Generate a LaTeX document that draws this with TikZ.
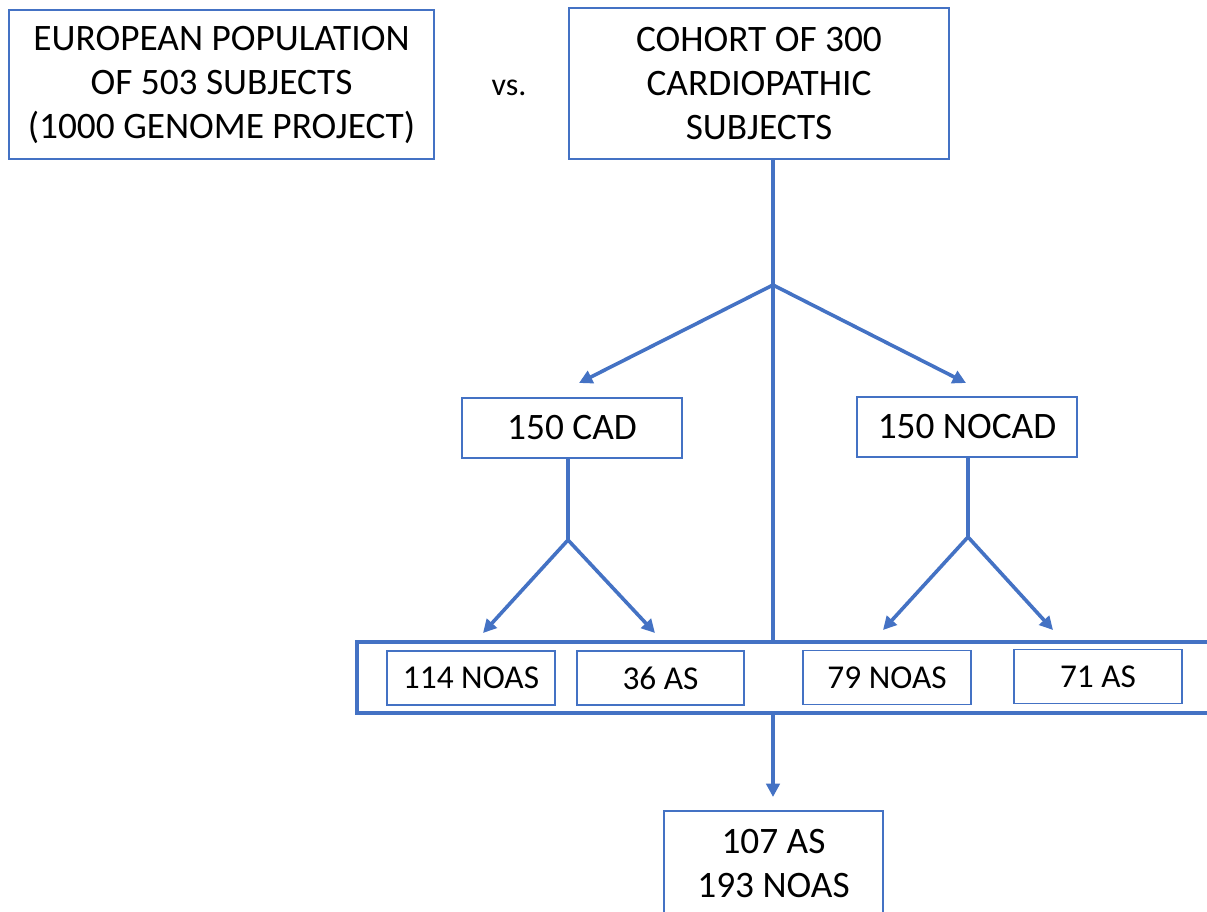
\documentclass[tikz,border=0pt]{standalone}
\usepackage{fontspec}
\setmainfont{Carlito}
\usetikzlibrary{arrows.meta,calc}
\definecolor{bl}{HTML}{4472C4}
\begin{document}
\begin{tikzpicture}[x=0.75pt,y=-0.75pt,
  box/.style={draw=bl,line width=1.2pt,rectangle,inner sep=0pt,align=center,text=black,font=\fontsize{28}{33}\selectfont},
  smallbox/.style={draw=bl,line width=1.2pt,rectangle,inner sep=0pt,align=center,text=black,font=\fontsize{25}{28}\selectfont},
  frame/.style={draw=bl,line width=2.8pt,rectangle,inner sep=0pt},
  conn/.style={draw=bl,line width=2.7pt},
  arr/.style={conn,-{Triangle[length=10pt,width=10pt]}}]
\useasboundingbox[fill=white] (0,0) rectangle (1207,912);

\node[box,minimum width=318.75pt,minimum height=111.75pt] (eur) at (221.5,84.5)
  {EUROPEAN POPULATION\\OF 503 SUBJECTS\\(1000 GENOME PROJECT)};
\node[text=black,font=\fontsize{24}{28}\selectfont] (vs) at (509,88) {vs.};
\node[box,minimum width=285pt,minimum height=113.25pt] (coh) at (759,83.5)
  {COHORT OF 300\\CARDIOPATHIC\\SUBJECTS};

\node[box,minimum width=165pt,minimum height=45pt] (cad) at (572,428) {150 CAD};
\node[box,minimum width=165pt,minimum height=45pt] (nocad) at (967,427) {150 NOCAD};

\node[frame,minimum width=654.75pt,minimum height=53.25pt] (grp) at (793.5,677.5) {};
\node[smallbox,minimum width=126pt,minimum height=40.5pt] (n114) at (471,678) {114 NOAS};
\node[smallbox,minimum width=125.25pt,minimum height=40.5pt] (a36) at (660.5,678) {36 AS};
\node[smallbox,minimum width=126pt,minimum height=40.5pt] (n79) at (887,677.5) {79 NOAS};
\node[smallbox,minimum width=126pt,minimum height=40.5pt] (a71) at (1098,676.5) {71 AS};

\node[box,minimum width=164.25pt,minimum height=78.75pt] (fin) at (773.5,863.5) {107 AS\\193 NOAS};

% spine
\coordinate (sp) at (773,285);
\coordinate (tcad) at (579,383);
\coordinate (tnocad) at (966,383);
\draw[conn] (coh.south -| sp) -- (grp.north -| sp);
\draw[arr] (sp) -- (tcad);
\draw[arr] (sp) -- (tnocad);

% CAD split
\coordinate (sc) at (568,540);
\coordinate (t114) at (483,633);
\coordinate (t36) at (655,633);
\draw[conn] (cad.south -| sc) -- (sc);
\draw[arr] (sc) -- (t114);
\draw[arr] (sc) -- (t36);

% NOCAD split
\coordinate (sn) at (968,537);
\coordinate (t79) at (883,630);
\coordinate (t71) at (1053,630);
\draw[conn] (nocad.south -| sn) -- (sn);
\draw[arr] (sn) -- (t79);
\draw[arr] (sn) -- (t71);

% to final
\coordinate (tfin) at (773,797);
\draw[arr] (grp.south -| sp) -- (tfin);
\end{tikzpicture}
\end{document}
